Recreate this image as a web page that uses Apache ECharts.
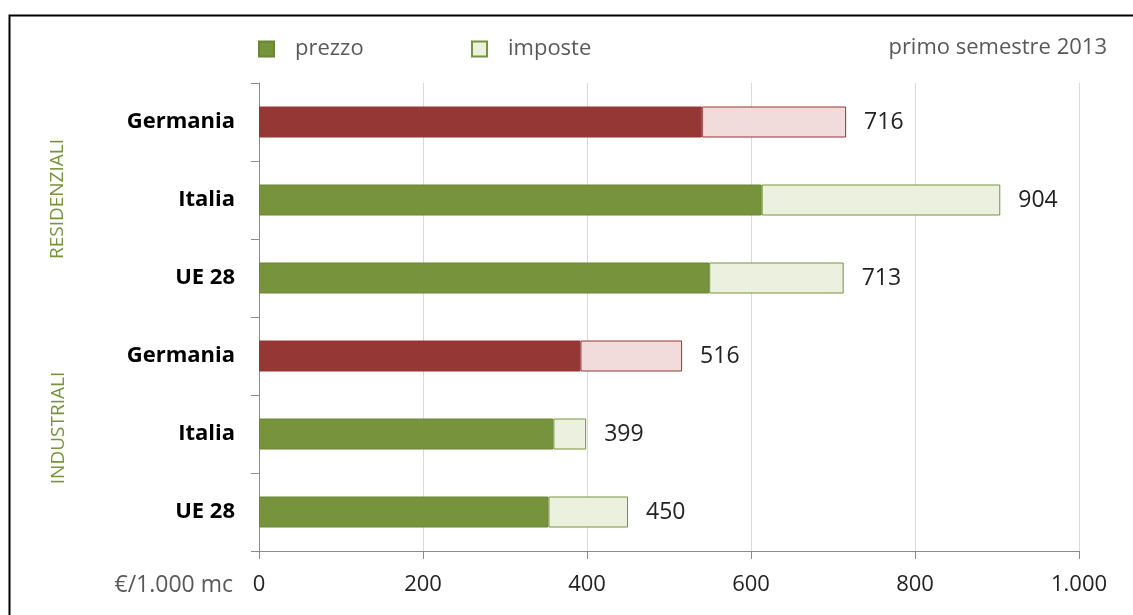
<!DOCTYPE html>
<html>
<head>
<meta charset="utf-8">
<script src="https://cdn.jsdelivr.net/npm/echarts@6/dist/echarts.min.js"></script>
<style>
  html, body { margin: 0; padding: 0; background: #fff; }
  #chart { width: 1133px; height: 615px; }
</style>
</head>
<body>
<div id="chart"></div>
<script>
// Gas price for households (residenziali) and industry (industriali), €/1.000 mc
const categories = ['Germania', 'Italia', 'UE 28', 'Germania', 'Italia', 'UE 28'];
const prezzo = [540, 613, 549, 392, 359, 353];
const imposte = [176, 291, 164, 124, 40, 97];
const totali = [716, 904, 713, 516, 399, 450];
const xTicks = [0, 200, 400, 600, 800, 1000];
const gruppi = ['RESIDENZIALI', 'INDUSTRIALI'];

const FONT = '"Open Sans", "Liberation Sans", sans-serif';
const green = { base: '#77933c', light: '#ebf1de', border: '#6a8535' };
const red = { base: '#953735', light: '#f2dcdb', border: '#953735' };
const paletteFor = name => (name === 'Germania' ? red : green);

const prezzoData = prezzo.map((v, i) => {
  const p = paletteFor(categories[i]);
  return { value: v, itemStyle: { color: p.base, borderColor: p.border } };
});
const imposteData = imposte.map((v, i) => {
  const p = paletteFor(categories[i]);
  return { value: v, itemStyle: { color: p.light, borderColor: p.base } };
});

const fmtThousands = v => String(v).replace(/\B(?=(\d{3})+(?!\d))/g, '.');

const legendBase = {
  top: 38, padding: 0, icon: 'rect', itemWidth: 15, itemHeight: 15,
  textStyle: { fontFamily: FONT, fontSize: 22, color: '#595959', padding: [0, 0, 0, 16] }
};

const chart = echarts.init(document.getElementById('chart'));
chart.setOption({
  animation: false,
  textStyle: { fontFamily: FONT },
  title: {
    text: 'primo semestre 2013',
    right: 26,
    top: 37,
    padding: 0,
    textStyle: { fontFamily: FONT, fontSize: 22, fontWeight: 'normal', color: '#595959' }
  },
  legend: [
    Object.assign({ data: ['prezzo'], left: 258 }, legendBase),
    Object.assign({ data: ['imposte'], left: 471 }, legendBase)
  ],
  grid: { left: 259, right: 54, top: 83, bottom: 64, containLabel: false, outerBoundsMode: 'none' },
  xAxis: {
    type: 'value',
    min: xTicks[0],
    max: xTicks[xTicks.length - 1],
    interval: xTicks[1] - xTicks[0],
    axisLine: { show: true, lineStyle: { color: '#8c8c8c', width: 1 } },
    axisTick: { show: true, length: 8, lineStyle: { color: '#8c8c8c' } },
    splitLine: { show: true, lineStyle: { color: '#d9d9d9', width: 1 } },
    axisLabel: {
      margin: 23, fontSize: 22, color: '#222', fontFamily: FONT,
      formatter: v => fmtThousands(v)
    }
  },
  yAxis: {
    type: 'category',
    data: categories,
    inverse: true,
    axisLine: { show: true, lineStyle: { color: '#8c8c8c', width: 1 } },
    axisTick: { show: true, length: 8, lineStyle: { color: '#8c8c8c' } },
    axisLabel: { margin: 24, fontSize: 22, fontWeight: 'bold', color: '#000', fontFamily: FONT }
  },
  series: [
    {
      name: 'prezzo',
      type: 'bar',
      stack: 'tot',
      barWidth: 31,
      itemStyle: { color: green.base, borderColor: green.border, borderWidth: 1 },
      data: prezzoData
    },
    {
      name: 'imposte',
      type: 'bar',
      stack: 'tot',
      barWidth: 31,
      itemStyle: { color: green.light, borderColor: green.base, borderWidth: 1 },
      label: {
        show: true,
        position: 'right',
        distance: 18,
        fontSize: 23,
        color: '#222',
        fontFamily: FONT,
        formatter: p => String(totali[p.dataIndex])
      },
      data: imposteData
    }
  ],
  graphic: [
    {
      type: 'rect', silent: true, z: -1,
      shape: { x: 9.5, y: 15.5, width: 1400, height: 900 },
      style: { fill: 'none', stroke: '#000', lineWidth: 2 }
    },
    {
      type: 'text', x: 58, y: 199, rotation: Math.PI / 2,
      style: {
        text: gruppi[0], fontFamily: FONT, fontSize: 19, fill: '#77933c',
        textAlign: 'center', textVerticalAlign: 'middle'
      }
    },
    {
      type: 'text', x: 59, y: 428, rotation: Math.PI / 2,
      style: {
        text: gruppi[1], fontFamily: FONT, fontSize: 19, fill: '#77933c',
        textAlign: 'center', textVerticalAlign: 'middle'
      }
    },
    {
      type: 'text', x: 233, y: 585,
      style: {
        text: '€/1.000 mc', fontFamily: FONT, fontSize: 23, fill: '#595959',
        textAlign: 'right', textVerticalAlign: 'middle'
      }
    }
  ]
});
</script>
</body>
</html>
